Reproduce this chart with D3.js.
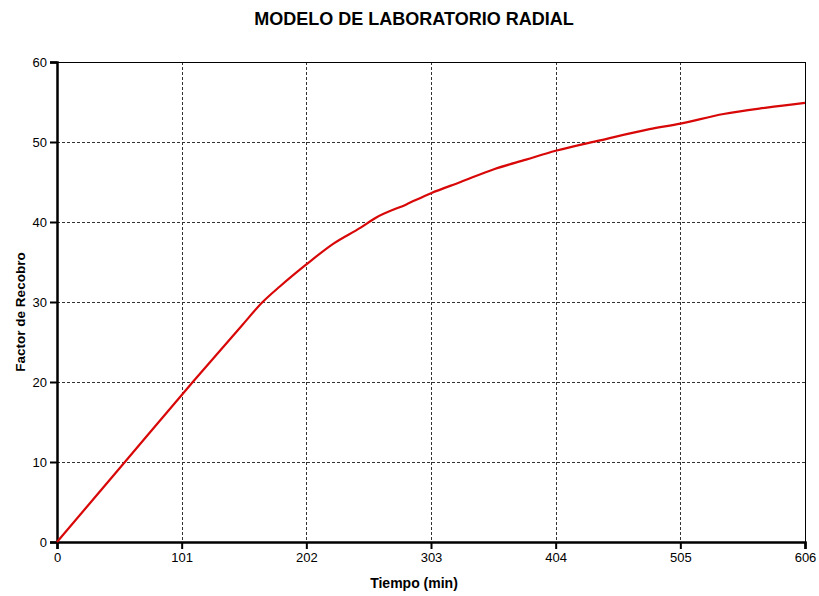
<!DOCTYPE html>
<html>
<head>
<meta charset="utf-8">
<script src="https://cdn.jsdelivr.net/npm/d3@7"></script>
<style>
  body { margin: 0; background: #fff; }
  svg { display: block; }
</style>
</head>
<body>
<div class="chart"></div>
<script>
// values
var tiempo = [0, 55, 110, 150, 166, 181, 202, 224, 246, 258, 283, 303, 327, 354, 380, 404, 440, 480, 505, 540, 575, 606];
var recobro = [0, 10, 20, 27.1, 29.9, 32, 34.7, 37.3, 39.3, 40.5, 42.2, 43.6, 45.0, 46.6, 47.8, 48.9, 50.2, 51.6, 52.3, 53.5, 54.3, 54.9];
var xTicks = [0, 101, 202, 303, 404, 505, 606];
var yTicks = [0, 10, 20, 30, 40, 50, 60];

var width = 819, height = 596;
var margin = {top: 62, left: 57, right: 14, bottom: 54};

var svg = d3.select('.chart').append('svg')
    .attr('width', width)
    .attr('height', height);

var x = d3.scaleLinear().domain([0, 606]).range([margin.left, width - margin.right]);
var y = d3.scaleLinear().domain([0, 60]).range([height - margin.bottom, margin.top]);

var tickFont = '"Liberation Sans", Arial, sans-serif';

// grid
var grid = svg.append('g').attr('class', 'grid');
grid.selectAll('.vg')
    .data(xTicks.slice(1, -1))
    .enter().append('line')
    .attr('x1', d => Math.round(x(d)) + 0.5)
    .attr('x2', d => Math.round(x(d)) + 0.5)
    .attr('y1', y(60))
    .attr('y2', y(0))
    .style('stroke', '#333')
    .style('stroke-dasharray', '3,2');
grid.selectAll('.hg')
    .data(yTicks.slice(1, -1))
    .enter().append('line')
    .attr('x1', x(0))
    .attr('x2', x(606))
    .attr('y1', d => Math.round(y(d)) + 0.5)
    .attr('y2', d => Math.round(y(d)) + 0.5)
    .style('stroke', '#333')
    .style('stroke-dasharray', '3,2');

// frame: thin top/right
svg.append('line')
    .attr('x1', x(0)).attr('x2', Math.round(x(606)) + 0.5)
    .attr('y1', y(60) + 0.5).attr('y2', y(60) + 0.5)
    .style('stroke', '#000');
svg.append('line')
    .attr('x1', Math.round(x(606)) + 0.5).attr('x2', Math.round(x(606)) + 0.5)
    .attr('y1', y(60)).attr('y2', y(0))
    .style('stroke', '#000');

// axes
var xAxis = svg.append('g')
    .attr('transform', `translate(0,${y(0)})`)
    .call(d3.axisBottom(x).tickValues(xTicks).tickSize(7).tickPadding(4));
var yAxis = svg.append('g')
    .attr('transform', `translate(${x(0)},0)`)
    .call(d3.axisLeft(y).tickValues(yTicks).tickSize(7).tickPadding(3));

[xAxis, yAxis].forEach(a => {
    a.select('.domain').style('stroke', '#000').style('stroke-width', 2.5);
    a.selectAll('.tick line').style('stroke', '#000').style('stroke-width', 2);
    a.selectAll('text')
        .style('font-family', tickFont)
        .style('font-size', '13px')
        .style('fill', '#000');
});

// curve
var line = d3.line()
    .x((d, i) => x(tiempo[i]))
    .y(d => y(d))
    .curve(d3.curveMonotoneX);
svg.append('path')
    .datum(recobro)
    .attr('d', line)
    .style('fill', 'none')
    .style('stroke', '#d80808')
    .style('stroke-width', 2.2);

// titles
svg.append('text')
    .attr('x', 414)
    .attr('y', 25)
    .attr('text-anchor', 'middle')
    .style('font-family', '"Liberation Sans", Arial, sans-serif')
    .style('font-weight', 'bold')
    .style('font-size', '18px')
    .text('MODELO DE LABORATORIO RADIAL');

svg.append('text')
    .attr('x', 414)
    .attr('y', 588)
    .attr('text-anchor', 'middle')
    .style('font-family', '"Liberation Sans", Arial, sans-serif')
    .style('font-weight', 'bold')
    .style('font-size', '14px')
    .text('Tiempo (min)');

svg.append('text')
    .attr('transform', 'translate(25,312) rotate(-90)')
    .attr('text-anchor', 'middle')
    .style('font-family', '"Liberation Sans", Arial, sans-serif')
    .style('font-weight', 'bold')
    .style('font-size', '13.5px')
    .text('Factor de Recobro');
</script>
</body>
</html>
